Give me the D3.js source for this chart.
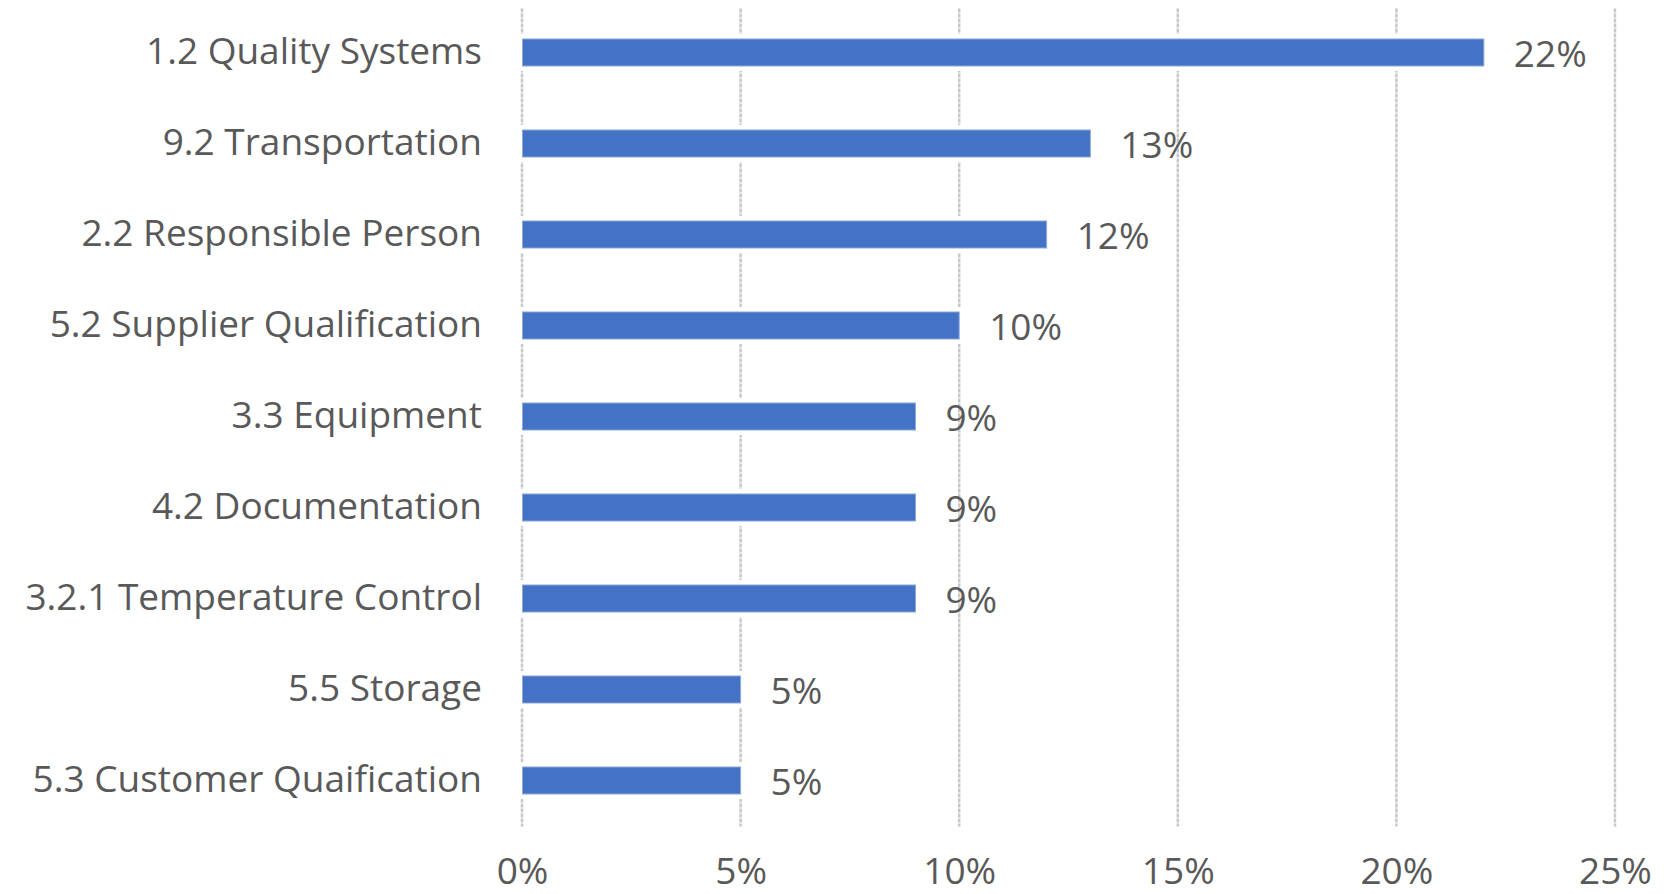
<!DOCTYPE html>
<html>
<head>
<meta charset="utf-8">
<script src="https://cdn.jsdelivr.net/npm/d3@7"></script>
<style>
  html, body { margin: 0; padding: 0; background: #ffffff; }
  svg { display: block; }
  text { font-family: "Open Sans", Lato, sans-serif; fill: #595959; }
</style>
</head>
<body>
<svg id="chart" width="1669" height="894"></svg>
<script>
// Share of findings per guideline section
const categories = [
  "1.2 Quality Systems",
  "9.2 Transportation",
  "2.2 Responsible Person",
  "5.2 Supplier Qualification",
  "3.3 Equipment",
  "4.2 Documentation",
  "3.2.1 Temperature Control",
  "5.5 Storage",
  "5.3 Customer Quaification"
];
const values = [0.22, 0.13, 0.12, 0.10, 0.09, 0.09, 0.09, 0.05, 0.05];
const xTicks = [0, 0.05, 0.10, 0.15, 0.20, 0.25];

const W = 1669, H = 894;
const margin = { top: 7, right: 54, bottom: 68, left: 522 };
const fontSize = "37px";

const svg = d3.select("#chart");

const x = d3.scaleLinear()
  .domain([0, 0.25])
  .range([margin.left, W - margin.right]);

const y = d3.scaleBand()
  .domain(categories)
  .range([margin.top, H - margin.bottom])
  .paddingInner(0.692)
  .paddingOuter(0.346);

const fmt = d3.format(".0%");

// Vertical gridlines
svg.append("g")
  .selectAll("line")
  .data(xTicks)
  .join("line")
  .attr("x1", d => x(d))
  .attr("x2", d => x(d))
  .attr("y1", margin.top + 1.5)
  .attr("y2", H - margin.bottom + 0.5)
  .attr("stroke", "#c8c8c8")
  .attr("stroke-width", 2.5)
  .attr("stroke-dasharray", "4 1");

// Bars with a white halo that breaks the gridlines behind them
const bars = svg.append("g");
bars.selectAll("rect.halo")
  .data(values)
  .join("rect")
  .attr("class", "halo")
  .attr("x", x(0) + 2)
  .attr("y", (d, i) => y(categories[i]))
  .attr("width", d => x(d) - x(0) - 2)
  .attr("height", y.bandwidth())
  .attr("fill", "#ffffff")
  .attr("stroke", "#ffffff")
  .attr("stroke-width", 9);

bars.selectAll("rect.bar")
  .data(values)
  .join("rect")
  .attr("class", "bar")
  .attr("x", x(0) + 0.5)
  .attr("y", (d, i) => y(categories[i]) + 0.5)
  .attr("width", d => x(d) - x(0) - 0.5)
  .attr("height", y.bandwidth() - 1)
  .attr("fill", "#4472c4")
  .attr("stroke", "#8eaadb")
  .attr("stroke-width", 1);

// Value labels
svg.append("g")
  .selectAll("text")
  .data(values)
  .join("text")
  .attr("x", d => x(d) + 30)
  .attr("y", (d, i) => y(categories[i]) + y.bandwidth() / 2 + 2)
  .attr("dy", "0.35em")
  .style("font-size", fontSize)
  .text(d => fmt(d));

// Category axis
const yAxis = svg.append("g")
  .attr("transform", `translate(${margin.left},0)`)
  .call(d3.axisLeft(y).tickSize(0).tickPadding(40));
yAxis.select(".domain").remove();
yAxis.selectAll("text")
  .style("font-size", fontSize)
  .style("font-family", "'Open Sans', Lato, sans-serif")
  .attr("fill", "#595959");

// Percentage axis
const xAxis = svg.append("g")
  .attr("transform", `translate(0,${H - margin.bottom})`)
  .call(d3.axisBottom(x).tickValues(xTicks).tickFormat(fmt).tickSize(0).tickPadding(32));
xAxis.select(".domain").remove();
xAxis.selectAll("text")
  .style("font-size", fontSize)
  .style("font-family", "'Open Sans', Lato, sans-serif")
  .attr("fill", "#595959");
</script>
</body>
</html>
